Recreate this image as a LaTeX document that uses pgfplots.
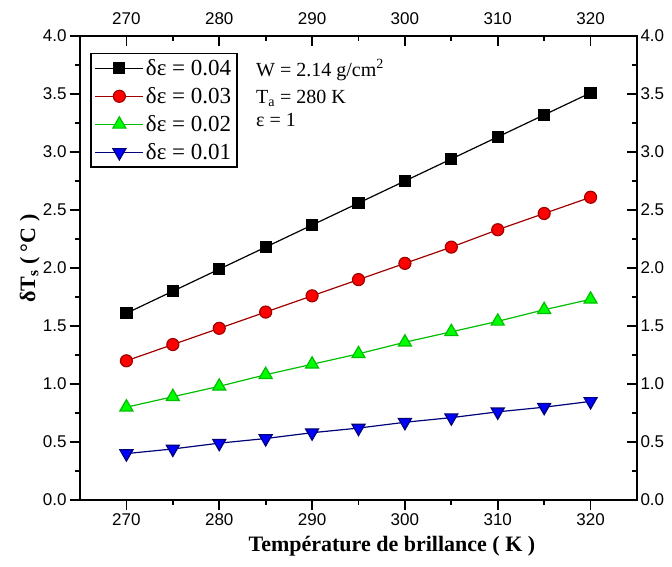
\documentclass[border=0pt]{standalone}
\usepackage{pgfplots}
\pgfplotsset{compat=1.18}
\usepackage{fontspec}
\setmainfont{Liberation Serif}
\setsansfont{Liberation Sans}
\definecolor{dred}{RGB}{160,0,0}
\definecolor{lgreen}{RGB}{0,255,0}
\definecolor{dgreen}{RGB}{0,190,0}
\definecolor{navy}{RGB}{0,0,120}
\begin{document}
\begin{tikzpicture}
\pgfplotsset{
  common/.style={
    scale only axis, width=557pt, height=464pt,
    xmin=265, xmax=325, ymin=0, ymax=4,
    xtick={270,280,...,320}, ytick={0,0.5,...,4},
    minor x tick num=1, minor y tick num=1,
    axis line style={line width=2.2pt},
    major tick length=10pt, minor tick length=5pt,
    every tick/.style={line width=1.8pt, black},
    tick label style={font=\sffamily\fontsize{17}{19}\selectfont},
    /pgf/number format/assume math mode=true,
    yticklabel style={/pgf/number format/fixed, /pgf/number format/fixed zerofill, /pgf/number format/precision=1},
    xticklabel style={/pgf/number format/fixed, /pgf/number format/precision=0, /pgf/number format/set thousands separator={}},
  }
}
\begin{axis}[common, name=ax,
  xtick pos=left, ytick pos=left, tick align=outside,
  xlabel={\bfseries Température de brillance ( K )},
  ylabel={\bfseries δT\textsubscript{s} ( °C )},
  xlabel style={font=\fontsize{22}{24}\selectfont, at={(axis description cs:0.56,-0.1)}, anchor=center},
  ylabel style={font=\fontsize{22}{24}\selectfont, at={(axis description cs:-0.09,0.52)}, anchor=center},
  legend style={at={(axis description cs:0.018,0.964)}, anchor=north west,
    draw=black, line width=1.5pt, font=\fontsize{23}{25}\selectfont,
    row sep=6.5pt, inner sep=4pt, cells={anchor=west}},
  legend image code/.code={\draw[mark repeat=2,mark phase=2,#1] plot coordinates {(0pt,0pt) (24pt,0pt) (48pt,0pt)};},
]
\addplot[black, line width=1.2pt, mark=square*, mark size=5.5pt, mark options={fill=black, draw=black}]
 coordinates {(270,1.61)(275,1.80)(280,1.99)(285,2.18)(290,2.37)(295,2.56)(300,2.75)(305,2.94)(310,3.13)(315,3.32)(320,3.51)};
\addlegendentry{δε = 0.04}
\addplot[dred, line width=1.2pt, mark=*, mark size=6pt, mark options={fill=red, draw=dred}]
 coordinates {(270,1.20)(275,1.34)(280,1.48)(285,1.62)(290,1.76)(295,1.90)(300,2.04)(305,2.18)(310,2.33)(315,2.47)(320,2.61)};
\addlegendentry{δε = 0.03}
\addplot[dgreen, line width=1.2pt, mark=triangle*, mark size=7.5pt, mark options={fill=lgreen, draw=dgreen}]
 coordinates {(270,0.80)(275,0.89)(280,0.98)(285,1.08)(290,1.17)(295,1.26)(300,1.36)(305,1.45)(310,1.54)(315,1.64)(320,1.73)};
\addlegendentry{δε = 0.02}
\addplot[navy, line width=1.2pt, mark=triangle*, mark size=7.5pt, mark options={fill=blue, draw=navy, rotate=180}]
 coordinates {(270,0.40)(275,0.44)(280,0.49)(285,0.53)(290,0.58)(295,0.62)(300,0.67)(305,0.71)(310,0.76)(315,0.80)(320,0.85)};
\addlegendentry{δε = 0.01}
\node[anchor=west, font=\fontsize{20}{22}\selectfont] at (axis description cs:0.31,0.927) {W = 2.14 g/cm\textsuperscript{2}};
\node[anchor=west, font=\fontsize{20}{22}\selectfont] at (axis description cs:0.31,0.865) {T\textsubscript{a} = 280 K};
\node[anchor=west, font=\fontsize{20}{22}\selectfont] at (axis description cs:0.31,0.819) {ε = 1};
\end{axis}
\begin{axis}[common,
  xtick pos=right, ytick pos=right, xticklabel pos=right, yticklabel pos=right, tick align=inside,
  xticklabel style={/tikz/yshift=8pt}]
\addplot[draw=none] coordinates {(270,0)};
\end{axis}
\pgfresetboundingbox
\path ([xshift=-80pt,yshift=-67pt]ax.south west) rectangle ([xshift=35pt,yshift=36pt]ax.north east);
\end{tikzpicture}
\end{document}
